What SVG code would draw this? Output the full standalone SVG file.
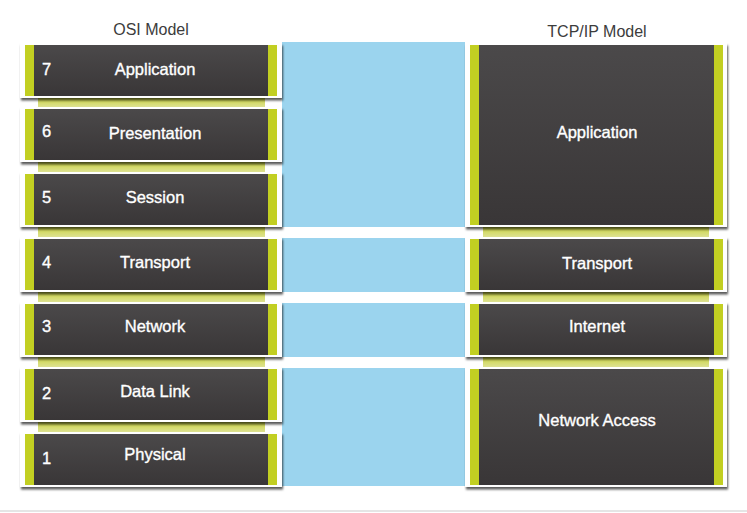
<svg xmlns="http://www.w3.org/2000/svg" width="747" height="513" viewBox="0 0 747 513">
  <defs>
    <linearGradient id="layerFill" x1="0" y1="0" x2="0" y2="1">
      <stop offset="0" stop-color="#4b494a"/>
      <stop offset="1" stop-color="#393637"/>
    </linearGradient>
    <linearGradient id="tabFill" x1="0" y1="0" x2="0" y2="1">
      <stop offset="0" stop-color="#c9d23a"/>
      <stop offset="1" stop-color="#dfe39a"/>
    </linearGradient>
    <filter id="cardShadow" x="-5%" y="-10%" width="112%" height="130%">
      <feDropShadow dx="1" dy="2.5" stdDeviation="1" flood-color="#000" flood-opacity="0.65"/>
    </filter>
  </defs>
  <style>
    .title { font-family: "Liberation Sans", Arial, sans-serif; font-size: 16px; fill: #3c3c3c; text-anchor: middle; }
    .label { font-family: "Liberation Sans", Arial, sans-serif; font-size: 16.5px; fill: #ffffff; stroke: #ffffff; stroke-width: 0.35px; text-anchor: middle; }
    .num { font-family: "Liberation Sans", Arial, sans-serif; font-size: 16.5px; fill: #ffffff; stroke: #ffffff; stroke-width: 0.35px; }
    .frame { fill: #ffffff; filter: url(#cardShadow); }
    .edge { fill: #c2cf22; }
    .body { fill: url(#layerFill); }
    .tab { fill: url(#tabFill); }
    .band { fill: #9bd4ee; }
  </style>

  <rect width="747" height="513" fill="#ffffff"/>
  <line x1="0" y1="511" x2="747" y2="511" stroke="#dcdcdc" stroke-width="1.5"/>

  <!-- column headings -->
  <text class="title" x="151" y="35">OSI Model</text>
  <text class="title" x="597" y="37">TCP/IP Model</text>

  <!-- blue bands linking OSI layers to TCP/IP layers -->
  <g id="connectors">
    <rect class="band" x="282" y="42" width="183" height="185"/>
    <rect class="band" x="282" y="238" width="183" height="54"/>
    <rect class="band" x="282" y="303" width="183" height="54"/>
    <rect class="band" x="282" y="368" width="183" height="118"/>
  </g>

  <!-- tabs peeking out beneath stacked cards -->
  <g id="tabs">
    <rect class="tab" x="38" y="97" width="227" height="11"/>
    <rect class="tab" x="38" y="161" width="227" height="12"/>
    <rect class="tab" x="38" y="226" width="227" height="12"/>
    <rect class="tab" x="38" y="291" width="227" height="12"/>
    <rect class="tab" x="38" y="356" width="227" height="12"/>
    <rect class="tab" x="38" y="421" width="227" height="12"/>
    <rect class="tab" x="483" y="226" width="226" height="12"/>
    <rect class="tab" x="483" y="291" width="226" height="12"/>
    <rect class="tab" x="483" y="356" width="226" height="12"/>
  </g>

  <!-- OSI model layers -->
  <g id="osi-7">
    <rect class="frame" x="20" y="43" width="262" height="55"/>
    <rect class="edge" x="25" y="45" width="9" height="51"/>
    <rect class="body" x="34" y="45" width="234" height="51"/>
    <rect class="edge" x="268" y="45" width="9" height="51"/>
    <text class="num" x="42" y="75">7</text>
    <text class="label" x="155" y="75">Application</text>
  </g>
  <g id="osi-6">
    <rect class="frame" x="20" y="107" width="262" height="55"/>
    <rect class="edge" x="25" y="109" width="9" height="51"/>
    <rect class="body" x="34" y="109" width="234" height="51"/>
    <rect class="edge" x="268" y="109" width="9" height="51"/>
    <text class="num" x="42" y="137">6</text>
    <text class="label" x="155" y="139">Presentation</text>
  </g>
  <g id="osi-5">
    <rect class="frame" x="20" y="172" width="262" height="55"/>
    <rect class="edge" x="25" y="174" width="9" height="51"/>
    <rect class="body" x="34" y="174" width="234" height="51"/>
    <rect class="edge" x="268" y="174" width="9" height="51"/>
    <text class="num" x="42" y="203">5</text>
    <text class="label" x="155" y="203">Session</text>
  </g>
  <g id="osi-4">
    <rect class="frame" x="20" y="237" width="262" height="55"/>
    <rect class="edge" x="25" y="239" width="9" height="51"/>
    <rect class="body" x="34" y="239" width="234" height="51"/>
    <rect class="edge" x="268" y="239" width="9" height="51"/>
    <text class="num" x="42" y="268">4</text>
    <text class="label" x="155" y="268">Transport</text>
  </g>
  <g id="osi-3">
    <rect class="frame" x="20" y="302" width="262" height="55"/>
    <rect class="edge" x="25" y="304" width="9" height="51"/>
    <rect class="body" x="34" y="304" width="234" height="51"/>
    <rect class="edge" x="268" y="304" width="9" height="51"/>
    <text class="num" x="42" y="332">3</text>
    <text class="label" x="155" y="332">Network</text>
  </g>
  <g id="osi-2">
    <rect class="frame" x="20" y="367" width="262" height="55"/>
    <rect class="edge" x="25" y="369" width="9" height="51"/>
    <rect class="body" x="34" y="369" width="234" height="51"/>
    <rect class="edge" x="268" y="369" width="9" height="51"/>
    <text class="num" x="42" y="399">2</text>
    <text class="label" x="155" y="397">Data Link</text>
  </g>
  <g id="osi-1">
    <rect class="frame" x="20" y="432" width="262" height="55"/>
    <rect class="edge" x="25" y="434" width="9" height="51"/>
    <rect class="body" x="34" y="434" width="234" height="51"/>
    <rect class="edge" x="268" y="434" width="9" height="51"/>
    <text class="num" x="42" y="464">1</text>
    <text class="label" x="155" y="460">Physical</text>
  </g>

  <!-- TCP/IP model layers -->
  <g id="tcpip-application">
    <rect class="frame" x="465" y="43" width="262" height="184"/>
    <rect class="edge" x="470" y="45" width="9" height="180"/>
    <rect class="body" x="479" y="45" width="235" height="180"/>
    <rect class="edge" x="714" y="45" width="9" height="180"/>
    <text class="label" x="597" y="138">Application</text>
  </g>
  <g id="tcpip-transport">
    <rect class="frame" x="465" y="237" width="262" height="55"/>
    <rect class="edge" x="470" y="239" width="9" height="51"/>
    <rect class="body" x="479" y="239" width="235" height="51"/>
    <rect class="edge" x="714" y="239" width="9" height="51"/>
    <text class="label" x="597" y="269">Transport</text>
  </g>
  <g id="tcpip-internet">
    <rect class="frame" x="465" y="302" width="262" height="55"/>
    <rect class="edge" x="470" y="304" width="9" height="51"/>
    <rect class="body" x="479" y="304" width="235" height="51"/>
    <rect class="edge" x="714" y="304" width="9" height="51"/>
    <text class="label" x="597" y="332">Internet</text>
  </g>
  <g id="tcpip-network-access">
    <rect class="frame" x="465" y="367" width="262" height="120"/>
    <rect class="edge" x="470" y="369" width="9" height="116"/>
    <rect class="body" x="479" y="369" width="235" height="116"/>
    <rect class="edge" x="714" y="369" width="9" height="116"/>
    <text class="label" x="597" y="426">Network Access</text>
  </g>
</svg>
